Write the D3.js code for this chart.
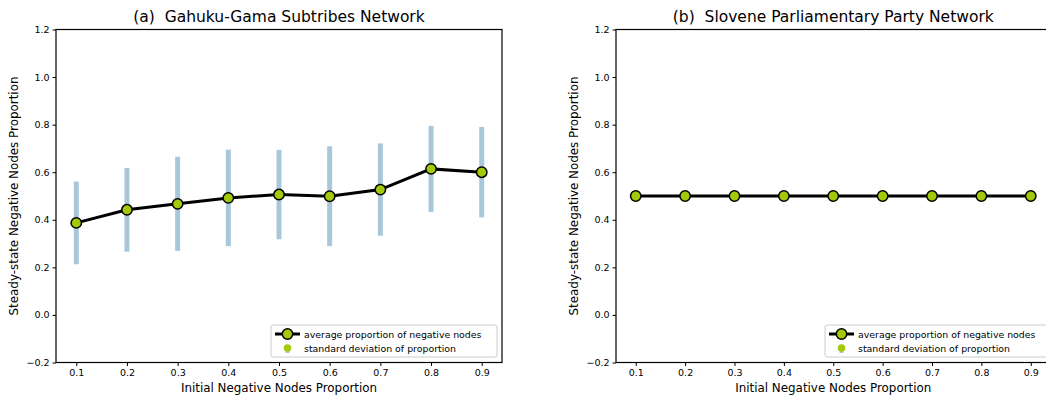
<!DOCTYPE html>
<html lang="en">
<head>
    <meta charset="UTF-8">
    <title>Steady-state Negative Nodes Proportion</title>
    <style>
        body { margin: 0; background: #fff; }
        svg { display: block; font-family: "DejaVu Sans", sans-serif; }
        .tick text { font-size: 9.5px; fill: #000; }
        .tick line, .domain { stroke: #000; }
    </style>
    <script src="https://d3js.org/d3.v7.min.js"></script>
</head>
<body>
    <svg width="1046" height="397"></svg>

    <script>
        // initial proportion of negative nodes
        const initialProps = [0.1, 0.2, 0.3, 0.4, 0.5, 0.6, 0.7, 0.8, 0.9];

        // (a) Gahuku-Gama
        const meanA = [0.387, 0.442, 0.467, 0.492, 0.506, 0.499, 0.527, 0.614, 0.600];
        const stdA  = [0.174, 0.176, 0.198, 0.203, 0.188, 0.210, 0.194, 0.181, 0.190];

        // (b) Slovene Parliamentary Party
        const meanB = [0.5, 0.5, 0.5, 0.5, 0.5, 0.5, 0.5, 0.5, 0.5];
        const stdB  = [0, 0, 0, 0, 0, 0, 0, 0, 0];

        const yTicks = [-0.2, 0.0, 0.2, 0.4, 0.6, 0.8, 1.0, 1.2];
        const legendLabels = ["average proportion of negative nodes", "standard deviation of proportion"];

        const titles = ["(a)  Gahuku-Gama Subtribes Network", "(b)  Slovene Parliamentary Party Network"];

        const markerFill = "#a3c90a";
        const errColor = "#a9c7da";

        const svg = d3.select("svg");
        const plotTop = 29.5, plotBottom = 362.5;

        function drawPanel(left, right, means, stds, title, legendX) {
            const g = svg.append("g");
            const x = d3.scaleLinear().domain([0.06, 0.94]).range([left, right]);
            const y = d3.scaleLinear().domain([-0.2, 1.2]).range([plotBottom, plotTop]);

            const fmt = d => d < 0 ? "\u2212" + Math.abs(d).toFixed(1) : d.toFixed(1);

            // error bars
            g.selectAll(".err")
                .data(initialProps.map((p, i) => ({p: p, m: means[i], s: stds[i]})).filter(d => d.s > 0))
                .enter().append("line")
                .attr("x1", d => x(d.p)).attr("x2", d => x(d.p))
                .attr("y1", d => y(d.m - d.s)).attr("y2", d => y(d.m + d.s))
                .attr("stroke", errColor)
                .attr("stroke-width", 5);

            // mean line
            const line = d3.line()
                .x((d, i) => x(initialProps[i]))
                .y(d => y(d));
            g.append("path")
                .datum(means)
                .attr("d", line)
                .attr("fill", "none")
                .attr("stroke", "#000")
                .attr("stroke-width", 3);

            g.selectAll(".pt")
                .data(means)
                .enter().append("circle")
                .attr("cx", (d, i) => x(initialProps[i]))
                .attr("cy", d => y(d))
                .attr("r", 5.2)
                .attr("fill", markerFill)
                .attr("stroke", "#000")
                .attr("stroke-width", 1.5);

            // axes
            const xAxis = g.append("g")
                .attr("transform", "translate(0," + plotBottom + ")")
                .call(d3.axisBottom(x).tickValues(initialProps).tickSize(3.5).tickPadding(3).tickFormat(d3.format(".1f")));
            const yAxis = g.append("g")
                .attr("transform", "translate(" + left + ",0)")
                .call(d3.axisLeft(y).tickValues(yTicks).tickSize(3.5).tickPadding(3).tickFormat(fmt));
            [xAxis, yAxis].forEach(a => {
                a.select(".domain").remove();
                a.selectAll(".tick text").style("font-family", "DejaVu Sans");
            });

            // frame
            g.append("rect")
                .attr("x", left).attr("y", plotTop)
                .attr("width", right - left).attr("height", plotBottom - plotTop)
                .attr("fill", "none")
                .attr("stroke", "#000")
                .attr("stroke-width", 1.2);

            const mid = (left + right) / 2;

            g.append("text")
                .attr("x", mid).attr("y", 22)
                .attr("text-anchor", "middle")
                .style("font-size", "15.5px")
                .style("white-space", "pre")
                .text(title);

            g.append("text")
                .attr("x", mid).attr("y", 392)
                .attr("text-anchor", "middle")
                .style("font-size", "11.9px")
                .text("Initial Negative Nodes Proportion");

            g.append("text")
                .attr("transform", "translate(" + (left - 38) + "," + ((plotTop + plotBottom) / 2) + ") rotate(-90)")
                .attr("text-anchor", "middle")
                .style("font-size", "11.9px")
                .text("Steady-state Negative Nodes Proportion");

            // legend
            const lg = g.append("g").attr("transform", "translate(" + legendX + ",325)");
            lg.append("rect")
                .attr("x", 0).attr("y", 0)
                .attr("width", 226).attr("height", 32)
                .attr("rx", 2)
                .attr("fill", "#fff")
                .attr("fill-opacity", 0.8)
                .attr("stroke", "#ccc");
            lg.append("line")
                .attr("x1", 4).attr("x2", 29).attr("y1", 9).attr("y2", 9)
                .attr("stroke", "#000").attr("stroke-width", 3);
            lg.append("circle")
                .attr("cx", 16.5).attr("cy", 9).attr("r", 5.2)
                .attr("fill", markerFill).attr("stroke", "#000").attr("stroke-width", 1.5);
            lg.append("line")
                .attr("x1", 16.5).attr("x2", 16.5).attr("y1", 21).attr("y2", 28)
                .attr("stroke", errColor).attr("stroke-width", 4);
            lg.append("circle")
                .attr("cx", 16.5).attr("cy", 23).attr("r", 3.8)
                .attr("fill", markerFill);
            lg.selectAll(".lt")
                .data(legendLabels)
                .enter().append("text")
                .attr("x", 33)
                .attr("y", (d, i) => 12.5 + i * 14.5)
                .style("font-size", "9.4px")
                .text(d => d);
        }

        drawPanel(56, 502, meanA, stdA, titles[0], 271);
        drawPanel(616, 1050.5, meanB, stdB, titles[1], 825);
    </script>
</body>
</html>
